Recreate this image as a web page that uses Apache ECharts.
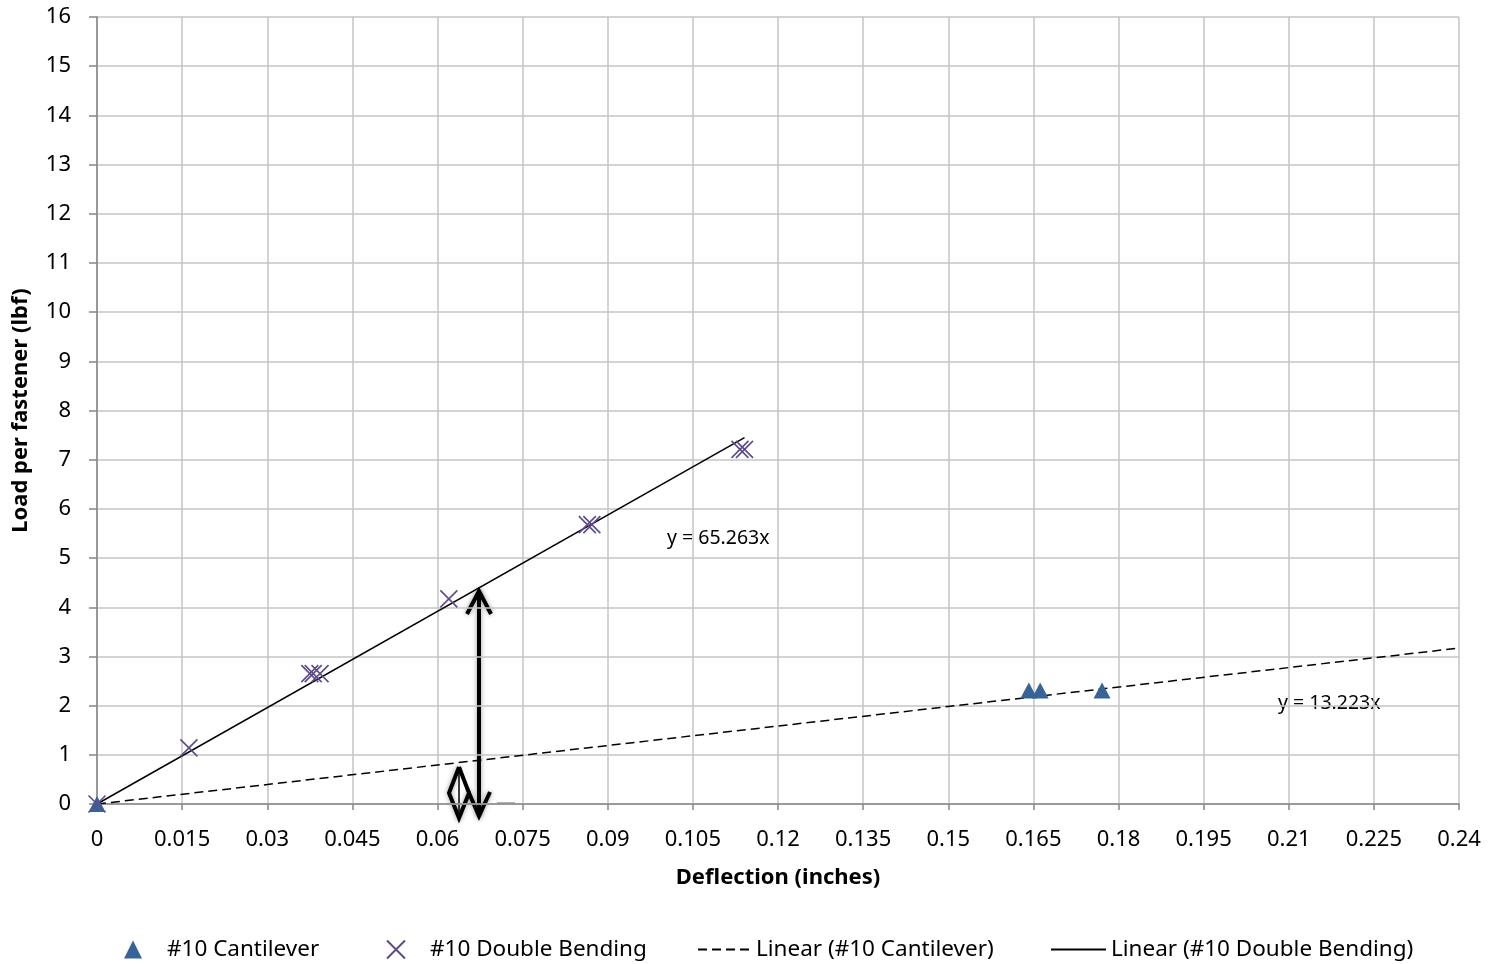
<!DOCTYPE html>
<html>
<head>
<meta charset="utf-8">
<title>Load vs Deflection</title>
<script src="https://cdn.jsdelivr.net/npm/echarts@6/dist/echarts.min.js"></script>
<style>
  html, body { margin: 0; padding: 0; background: #fff; }
  #chart { width: 1497px; height: 964px; }
</style>
</head>
<body>
<div id="chart"></div>
<script>
// measured points [deflection in, load lbf]
var cantilever = [[0, 0], [0.1642, 2.31], [0.1662, 2.31], [0.1771, 2.31]];
var doubleBending = [[0, 0], [0.0162, 1.14], [0.0375, 2.65], [0.0381, 2.65], [0.0393, 2.65],
  [0.0620, 4.17], [0.0864, 5.68], [0.0872, 5.68], [0.1133, 7.21], [0.1141, 7.21]];
// trend line end points as drawn
var cantTrend = [[0, 0], [0.24, 3.17]];
var dbTrend = [[0, 0], [0.1141, 7.45]];
var eqLabels = ['y = 65.263x', 'y = 13.223x'];

var font = '"Noto Sans", "Open Sans", sans-serif';
var chart = echarts.init(document.getElementById('chart'));

function legendAt(name, left, w, pad) {
  return {
    data: [name], left: left, top: 933, itemWidth: w, itemHeight: 18,
    itemStyle: { color: 'rgba(0,0,0,0)', borderWidth: 0 },
    textStyle: { fontFamily: font, fontSize: 22.5, color: '#000', padding: [0, 0, 0, pad] }
  };
}

var lg = [
  legendAt('#10 Cantilever', 119, 18, 20),
  legendAt('#10 Double Bending', 381, 18, 20),
  legendAt('Linear (#10 Cantilever)', 692, 53, 0),
  legendAt('Linear (#10 Double Bending)', 1045, 55, 0)
];
// scatter legends keep their own symbol colours
delete lg[0].itemStyle;
delete lg[1].itemStyle;

chart.setOption({
  animation: false,
  grid: { left: 97, right: 38, top: 17, bottom: 160 },
  xAxis: {
    type: 'value', min: 0, max: 0.24, interval: 0.015,
    name: 'Deflection (inches)', nameLocation: 'middle', nameGap: 63,
    nameTextStyle: { fontFamily: font, fontSize: 22, fontWeight: 'bold', color: '#000' },
    axisLine: { lineStyle: { color: '#868686', width: 1.5 } },
    axisTick: { show: true, length: 6, lineStyle: { color: '#868686', width: 1.5 } },
    axisLabel: {
      margin: 25, fontFamily: font, fontSize: 22, color: '#000',
      formatter: function (v) { return String(+v.toFixed(3)); }
    },
    splitLine: { lineStyle: { color: '#c4c4c4', width: 1.5 } }
  },
  yAxis: {
    type: 'value', min: 0, max: 16, interval: 1,
    name: 'Load per fastener (lbf)', nameLocation: 'middle', nameGap: 65,
    nameTextStyle: { fontFamily: font, fontSize: 22, fontWeight: 'bold', color: '#000' },
    axisLine: { show: true, lineStyle: { color: '#868686', width: 1.5 } },
    axisTick: { show: true, length: 8, lineStyle: { color: '#868686', width: 1.5 } },
    axisLabel: { margin: 26, fontFamily: font, fontSize: 22, color: '#000' },
    splitLine: { lineStyle: { color: '#c4c4c4', width: 1.5 } }
  },
  legend: lg,
  series: [
    {
      name: 'Linear (#10 Cantilever)', type: 'line', data: cantTrend,
      symbol: 'none', itemStyle: { color: '#000' },
      lineStyle: { color: '#000', width: 1.5, type: [9, 5] }, z: 2
    },
    {
      name: 'Linear (#10 Double Bending)', type: 'line', data: dbTrend,
      symbol: 'none', itemStyle: { color: '#000' },
      lineStyle: { color: '#000', width: 1.5 }, z: 2
    },
    {
      name: '#10 Cantilever', type: 'scatter', data: cantilever,
      symbol: 'triangle', symbolSize: [17, 16],
      itemStyle: { color: '#386397', opacity: 1 }, z: 3
    },
    {
      name: '#10 Double Bending', type: 'scatter', data: doubleBending,
      symbol: 'path://M0,0L10,10M10,0L0,10', symbolSize: 17,
      itemStyle: { color: 'rgba(0,0,0,0)', borderColor: '#5f4b8b', borderWidth: 1.6, opacity: 1 }, z: 4
    }
  ],
  graphic: [
    { type: 'text', left: 667, top: 528, style: { text: eqLabels[0], font: '19.5px ' + font, fill: '#000' } },
    { type: 'text', left: 1278, top: 693, style: { text: eqLabels[1], font: '19.5px ' + font, fill: '#000' } },
    // hand drawn arrows
    { type: 'group', z: 100, children: [
      { type: 'polyline', shape: { points: [[479, 591], [479, 816]] },
        style: { stroke: '#000', lineWidth: 4, shadowBlur: 5, shadowColor: 'rgba(0,0,0,0.4)' } },
      { type: 'polyline', shape: { points: [[467, 614], [479, 591], [491, 614]] },
        style: { stroke: '#000', lineWidth: 4, fill: null, shadowBlur: 5, shadowColor: 'rgba(0,0,0,0.4)' } },
      { type: 'polyline', shape: { points: [[459, 767], [449, 793], [459, 818], [469, 793], [479, 816], [490, 792]] },
        style: { stroke: '#000', lineWidth: 4, fill: null, shadowBlur: 5, shadowColor: 'rgba(0,0,0,0.4)' } },
      { type: 'polyline', shape: { points: [[469, 793], [459, 767]] },
        style: { stroke: '#000', lineWidth: 4, fill: null } },
      { type: 'polyline', shape: { points: [[459, 772], [459, 812]] },
        style: { stroke: '#000', lineWidth: 1.5, fill: null } },
      { type: 'polyline', shape: { points: [[497, 803], [515, 803]] },
        style: { stroke: '#b0b0b0', lineWidth: 2 } }
    ] }
  ]
});
</script>
</body>
</html>
